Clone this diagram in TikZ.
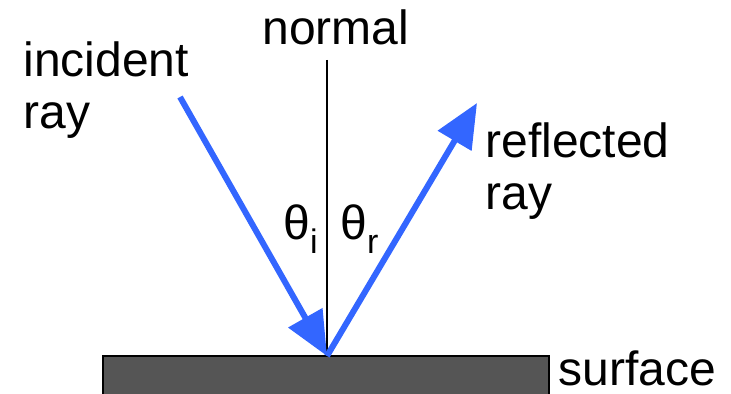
\documentclass[tikz,border=0pt]{standalone}
\usepackage{fontspec}
\setmainfont{Liberation Sans}
\usetikzlibrary{arrows.meta,positioning}
\definecolor{raysblue}{HTML}{3366FF}
\definecolor{slab}{HTML}{555555}
\newcommand{\angsub}[1]{θ\raisebox{-0.28em}{\fontsize{17}{17}\selectfont #1}}

\begin{document}
\begin{tikzpicture}[x=0.5pt,y=-0.5pt,
  every node/.style={font=\fontsize{24}{26}\selectfont,inner sep=0pt},
  lbl/.style={anchor=base west,align=left},
  ray/.style={draw=raysblue,line width=3pt,-{Triangle[length=22pt,width=19pt]}}]
\useasboundingbox (0,0) rectangle (731,394);
\draw[black,line width=0.8pt,fill=slab] (103,356) rectangle (549,396);
\coordinate (hit) at (327,356);
\coordinate (top) at (327,60);
\coordinate (src) at (180,97);
\coordinate (dst) at (477,103);
\draw[black,line width=1.2pt] (top)--(hit);
\draw[ray] (src)--(hit);
\draw[ray] (hit)--(dst);
\node[lbl] (nrm) at (262,45) {normal};
\node[lbl] (inc) at (23,129) {incident\\ray};
\node[lbl] (refl) at (485,210) {reflected\\ray};
\node[lbl] (surf) at (558,385) {surface};
\node[lbl] (ti) at (283,240) {\angsub{i}};
\node[lbl] (tr) at (340,240) {\angsub{r}};
\end{tikzpicture}
\end{document}
